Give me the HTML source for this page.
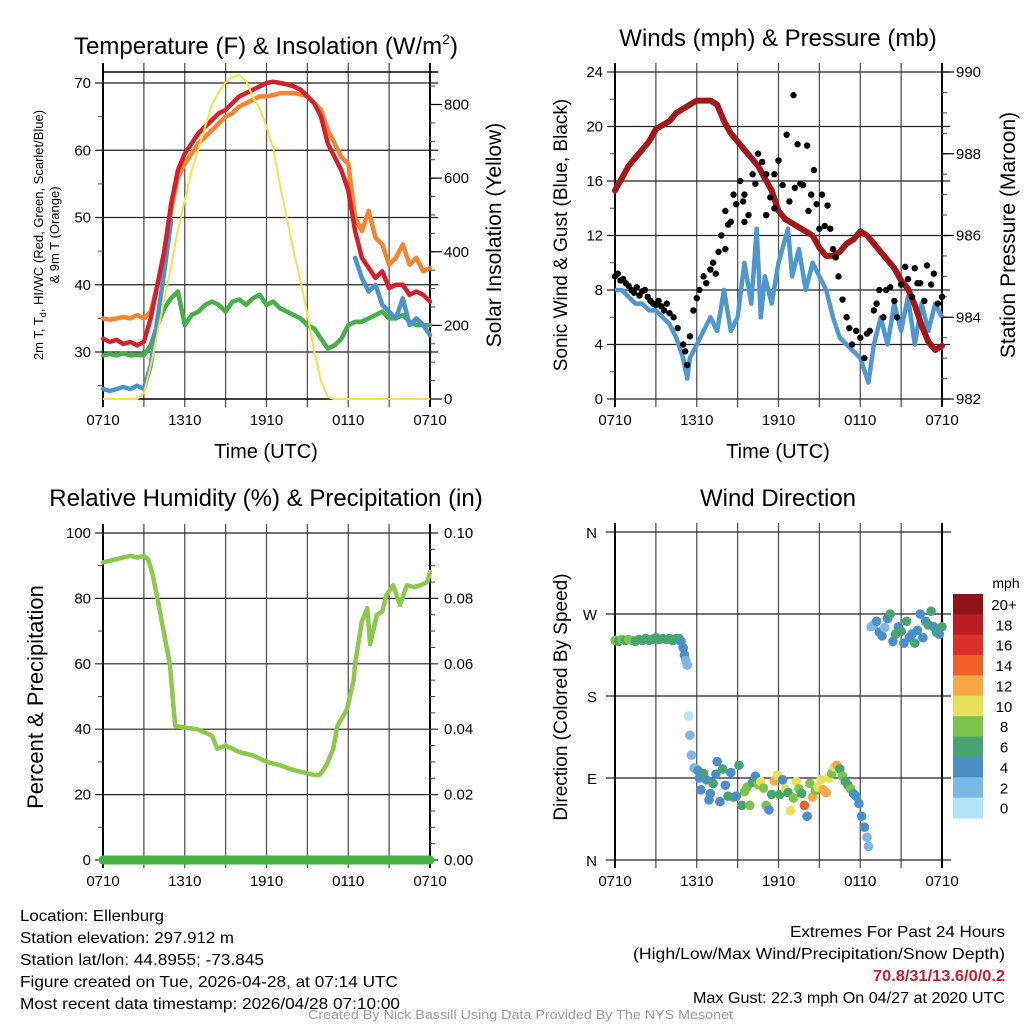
<!DOCTYPE html>
<html><head><meta charset="utf-8"><style>
html,body{margin:0;padding:0;background:#fff;}
svg{display:block;font-family:"Liberation Sans",sans-serif;}
</style></head><body>
<svg id="fig" width="1024" height="1024" viewBox="0 0 1024 1024" xmlns="http://www.w3.org/2000/svg">
<rect width="1024" height="1024" fill="#fff"/>
<g id="tl"></g>
<g id="tr"></g>
<g id="bl"></g>
<g id="br"></g>

<text x="266" y="54" font-size="24" text-anchor="middle">Temperature (F) &amp; Insolation (W/m<tspan font-size="14" dy="-10">2</tspan><tspan dy="10">)</tspan></text>
<text x="778" y="46" font-size="24" text-anchor="middle">Winds (mph) &amp; Pressure (mb)</text>
<text x="266" y="506" font-size="24" text-anchor="middle">Relative Humidity (%) &amp; Precipitation (in)</text>
<text x="778" y="506" font-size="24" text-anchor="middle">Wind Direction</text>

<text x="266" y="458" font-size="20" text-anchor="middle">Time (UTC)</text>
<text x="778" y="458" font-size="20" text-anchor="middle">Time (UTC)</text>

<text transform="translate(43,235) rotate(-90)" font-size="13" text-anchor="middle">2m T, T<tspan font-size="9" dy="3">d</tspan><tspan dy="-3">, HI/WC (Red, Green, Scarlet/Blue)</tspan></text>
<text transform="translate(59,235) rotate(-90)" font-size="13" text-anchor="middle">&amp; 9m T (Orange)</text>
<text transform="translate(501,235) rotate(-90)" font-size="21" text-anchor="middle">Solar Insolation (Yellow)</text>
<text transform="translate(567,235) rotate(-90)" font-size="19" text-anchor="middle">Sonic Wind &amp; Gust (Blue, Black)</text>
<text transform="translate(1015,235) rotate(-90)" font-size="21" text-anchor="middle">Station Pressure (Maroon)</text>
<text transform="translate(43,697) rotate(-90)" font-size="22" text-anchor="middle">Percent &amp; Precipitation</text>
<text transform="translate(567,697) rotate(-90)" font-size="19" text-anchor="middle">Direction (Colored By Speed)</text>

<g font-size="16">
<text x="20" y="921" textLength="144" lengthAdjust="spacingAndGlyphs">Location: Ellenburg</text>
<text x="20" y="943" textLength="214" lengthAdjust="spacingAndGlyphs">Station elevation: 297.912 m</text>
<text x="20" y="965" textLength="244" lengthAdjust="spacingAndGlyphs">Station lat/lon: 44.8955; -73.845</text>
<text x="20" y="987" textLength="378" lengthAdjust="spacingAndGlyphs">Figure created on Tue, 2026-04-28, at 07:14 UTC</text>
<text x="20" y="1009" textLength="380" lengthAdjust="spacingAndGlyphs">Most recent data timestamp: 2026/04/28 07:10:00</text>
</g>
<g font-size="16">
<text x="790" y="937" textLength="215" lengthAdjust="spacingAndGlyphs">Extremes For Past 24 Hours</text>
<text x="633" y="959" textLength="372" lengthAdjust="spacingAndGlyphs">(High/Low/Max Wind/Precipitation/Snow Depth)</text>
<text x="873" y="981" textLength="132" lengthAdjust="spacingAndGlyphs" fill="#c8202a" font-weight="bold">70.8/31/13.6/0/0.2</text>
<text x="693" y="1003" textLength="312" lengthAdjust="spacingAndGlyphs">Max Gust: 22.3 mph On 04/27 at 2020 UTC</text>
</g>
<text x="308" y="1019" font-size="13" fill="#999" textLength="425" lengthAdjust="spacingAndGlyphs">Created By Nick Bassill Using Data Provided By The NYS Mesonet</text>
</svg>
<script>
// ---- shared time categories ----
const xTickLabels = ["0710","1310","1910","0110","0710"];
const halfHours = [0,0.5,1,1.5,2,2.5,3,3.5,4,4.5,5,5.5,6,6.5,7,7.5,8,8.5,9,9.5,10,10.5,11,11.5,12,12.5,13,13.5,14,14.5,15,15.5,16,16.5,17,17.5,18,18.5,19,19.5,20,20.5,21,21.5,22,22.5,23,23.5,24];
// ---- temperature panel ----
const tempTicks = [30,40,50,60,70];
const insolTicks = [0,200,400,600,800];
const temp2m = [32,31.5,31.8,31.2,31.5,31,31.5,35,40,45,52,57,59.5,61,62.5,63.5,64.5,65.5,66,67,68,68.5,69,69.5,70,70.2,70,69.8,69.5,69,68,67,65,61,59,57,54,48,44,42.5,41,42,39.5,40,40,38.5,39,38.5,37.5];
const temp9m = [35,34.8,35,35.2,35,35.5,35,36,40,45,51,56,58,59.5,61,62,63,64,65,65.5,66.5,67,67.5,68,68,68.2,68.5,68.5,68.5,68.3,68,67,66,63,61,59,58,50,48,51,47,46,43,44,46,43,44,42,42.5];
const dewpoint = [29.5,29.7,29.5,29.8,29.5,29.6,29.5,31,34,36.5,38,39,34,35.5,36,37,37.5,37,36,37.5,37.8,37,38,38.5,37,37.5,36.5,36,35.5,35,34,33.5,32,30.5,31,32,34,34.5,34.5,35,35.5,36,35,35,35.5,34.5,34,34,34];
const heatWindChill = [24.5,24.2,24.5,24.8,24.5,25,24.5,28,35,42,49.5,null,null,null,null,null,null,null,null,null,null,null,null,null,null,null,null,null,null,null,null,null,null,null,null,null,null,44,41,39,40,37,36,35,38,34,35,34,32.5];
const insolation = [0,0,0,0,0,0,16,90,180,270,360,460,540,620,680,740,800,835,860,875,880,865,820,790,740,680,580,490,400,320,230,130,50,5,0,0,0,0,0,0,0,0,0,0,0,0,0,0,0];
// ---- wind panel ----
const windTicks = [0,4,8,12,16,20,24];
const pressTicks = [982,984,986,988,990];
const windTimes = [0,0.5,1,1.5,2,2.5,3,3.5,4,4.5,5,5.3,5.5,6,6.5,7,7.5,8,8.5,9,9.5,10,10.4,10.7,11,11.5,12,12.7,13,13.5,14,14.5,15,15.5,16,16.5,17,17.5,18,18.6,19,19.5,20,20.5,21,21.5,22,22.5,23,23.5,24];
const windSpeed = [8,8,7.5,7,7,6.5,6.5,6,5.5,4.5,3,1.5,3,4,5,6,5,8,5,6,10,7,12.5,6,9,7,10,12.5,9,11,8,10,9,8,6,4.5,4,3.5,3,1.2,4,6,4,7,5,7.5,4,7,5,7,6];
const gustTimes = [0,0.2,0.4,0.6,0.8,1,1.2,1.4,1.6,1.8,2,2.2,2.4,2.6,2.8,3,3.2,3.4,3.6,3.8,4,4.3,4.6,5,5.15,5.3,5.5,5.75,6,6.2,6.5,6.7,7,7.2,7.4,7.6,7.8,8.1,8.1,8.3,8.5,8.7,8.9,9.2,9.4,9.5,9.5,9.8,10.1,10.3,10.5,10.8,11.1,11.1,11.4,11.7,11.7,12,12.3,12.6,12.8,13.1,13.2,13.4,13.6,13.8,14.1,14.2,14.4,14.6,14.8,15.0,15.2,15.4,15.6,15.8,16,16.2,16.4,16.7,17,17.2,17.4,17.7,18,18.3,18.5,18.7,19,19.2,19.4,19.7,19.9,20.2,20.5,20.7,21,21.3,21.5,21.8,22,22.2,22.4,22.7,22.9,23.2,23.4,23.7,24];
const gustSpeed = [9,9.2,8.7,8.8,8.5,8.3,8,7.8,8.2,7.6,7.9,8,7.5,7.2,7,6.9,7.2,6.8,6.5,7,6.3,6,5.2,4,3.5,2.5,4.6,6.5,7.4,8,9,8.5,9.5,10,9.2,10.8,12,13.8,11,12.8,13,15,14.3,16,14.5,15,13,13.5,16.5,15.8,18,17.4,16.5,13.5,14.8,16.5,14,17.5,15.7,19.4,14.5,22.3,15.5,18.7,15.8,15.7,18.6,13.8,15,16.8,14.3,12.5,15,12.7,14.2,12.5,11,10.4,9,7.3,6,5.2,4,5,4.5,3,4.8,5,6.5,7,8,6,8,8.2,7.2,6,8.4,9.7,8.8,7.5,9.6,8.5,8.5,7.2,9.8,8.4,9.2,7,7.5];
const pressure = [987.1,987.4,987.7,987.9,988.1,988.3,988.6,988.7,988.8,989.0,989.1,989.2,989.3,989.3,989.3,989.2,988.8,988.5,988.3,988.1,987.9,987.7,987.4,987.1,986.6,986.4,986.3,986.2,986.1,986.0,985.7,985.5,985.5,985.6,985.8,985.9,986.1,986.0,985.8,985.6,985.4,985.2,984.9,984.7,984.3,983.8,983.4,983.2,983.3];
// ---- humidity panel ----
const rhTicks = [0,20,40,60,80,100];
const precipTicks = ["0.00","0.02","0.04","0.06","0.08","0.10"];
const rhTimes = [0,0.5,1,1.5,2,2.5,3,3.3,3.6,4,4.45,4.9,5.3,6,6.9,7.5,8,8.4,9,10,11,12,13,14,14.5,15,15.5,15.9,16.4,16.9,17.2,17.9,18.4,18.5,19,19.4,19.6,20.1,20.5,20.8,21.3,21.8,22.3,22.8,23.3,23.8,24];
const rhValues = [91,91.5,92,92.5,93,92.5,93,92,88,80,70,60,41,40.5,40,39,38,34,35,33,32,30,29,27.5,27,26.5,26,26,29,34,41,46,55,60,73,77,66,75,76,81,84,78,84,83.5,84,85,88];
const precipTimes = [0,24];
const precipValues = [0,0];
// ---- direction panel ----
const dirTickLabels = ["N","E","S","W","N"];
const speedBinLabels = ["0","2","4","6","8","10","12","14","16","18","20+"];
const dirTimes = [0,0.25,0.5,0.75,1,1.25,1.5,1.75,2,2.25,2.5,2.75,3,3.25,3.5,3.75,4,4.25,4.5,4.7,4.85,5,5.1,5.2,5.3,5.4,5.5,5.6,5.8,6,6.1,6.2,6.3,6.5,6.7,6.9,7,7.2,7.4,7.5,7.7,7.9,8.1,8.3,8.5,8.7,8.9,9.1,9.3,9.5,9.7,9.9,10.1,10.3,10.5,10.7,10.9,11.1,11.3,11.5,11.7,11.9,12.1,12.3,12.5,12.7,12.9,13.1,13.3,13.5,13.7,13.9,14.1,14.3,14.5,14.7,14.9,15.1,15.3,15.5,15.7,15.9,16.1,16.3,16.5,16.7,16.9,17.1,17.3,17.5,17.7,17.9,18.1,18.3,18.5,18.6,18.8,19.0,19.2,19.4,19.6,19.8,20.0,20.2,20.4,20.6,20.8,21.0,21.2,21.4,21.6,21.8,22.0,22.2,22.4,22.6,22.8,23.0,23.2,23.4,23.6,23.8,24];
const dirDegrees = [241,240,242,241,242,241,240,242,241,243,241,242,244,242,243,242,243,241,243,243,240,233,225,219,214,158,137,115,101,100,98,90,77,95,88,66,73,84,94,108,64,100,82,70,96,69,70,104,60,75,80,60,85,92,83,86,79,60,55,72,87,93,72,88,78,74,54,68,86,78,73,60,48,84,69,76,80,88,77,74,90,95,102,104,100,92,86,82,78,73,70,62,48,36,25,15,256,258,262,250,246,255,265,270,240,248,256,251,238,262,244,248,238,252,270,244,262,258,273,256,250,248,256];
const dirSpeed = [8,7,8,7,8,8,7,7,7,6,7,6,6,7,6,7,6,7,6,6,5,4,4,3,3,1,2,2,2,3,4,4,5,7,4,4,5,6,5,5,4,7,5,6,4,7,4,7,7,8,9,8,7,5,8,10,8,9,5,7,12,10,6,5,11,7,10,8,11,8,6,15,4,8,12,9,11,10,12,13,10,9,11,12,7,9,6,7,8,4,5,5,4,4,3,2,2,3,4,4,5,3,4,6,5,7,5,6,4,7,4,5,6,4,5,4,5,7,6,5,6,5,6];

const binColors = ["#b4e2f8","#7bb9e4","#4a8fc7","#48a56f","#7bc34b","#e8e05a","#f6a845","#ef602b","#db3129","#bb1d24","#8f1419"];

const NS = "http://www.w3.org/2000/svg";
function mk(parent, tag, attrs) {
  const el = document.createElementNS(NS, tag);
  for (const k in attrs) el.setAttribute(k, attrs[k]);
  parent.appendChild(el);
  return el;
}
function scale(d0, d1, r0, r1) { return v => r0 + (v - d0) * (r1 - r0) / (d1 - d0); }
function pathFrom(ts, vs, xf, yf) {
  let d = "", pen = false;
  for (let i = 0; i < ts.length; i++) {
    if (vs[i] === null) { pen = false; continue; }
    d += (pen ? "L" : "M") + xf(ts[i]).toFixed(1) + "," + yf(vs[i]).toFixed(1);
    pen = true;
  }
  return d;
}
function timeAxis(g, x, y0, y1, ext) {
  for (let i = 0; i <= 8; i++) {
    const px = x(i * 3);
    const l = mk(g, "line", {x1: px, x2: px, y1: y0 - ext, y2: y1 + 8, stroke: (i === 0 || i === 8) ? "#000" : "#555", "stroke-width": (i === 0 || i === 8) ? 2 : 1.3});
    
    
  }
  for (let i = 0; i < xTickLabels.length; i++) {
    const t = mk(g, "text", {x: x(i * 6), y: y1 + 26, "font-size": 15, "text-anchor": "middle"});
    t.textContent = xTickLabels[i];
    
    
  }
}
function minorTicks(g, y, lo, hi, step, xpos, dir) {
  for (let v = lo; v <= hi + 1e-9; v += step) {
    const py = y(v);
    const l = mk(g, "line", {x1: xpos, x2: xpos + dir * 5, y1: py, y2: py, stroke: "#444", "stroke-width": 1});
    
    
  }
}
function hgrid(g, y, vals, x0, x1, labels, side, fmt) {
  vals.forEach((v, i) => {
    const py = y(v);
    const l = mk(g, "line", {x1: x0 - 8, x2: x1 + 8, y1: py, y2: py, stroke: "#222", "stroke-width": 1.2});
    
    
    if (labels) {
      const t = mk(g, "text", {x: side === "left" ? x0 - 12 : x1 + 14, y: py + 5, "font-size": 15, "text-anchor": side === "left" ? "end" : "start"});
      t.textContent = fmt ? fmt(labels[i]) : labels[i];
      
      
    }
  });
}
function rightTicks(g, y, vals, x1) {
  vals.forEach(v => {
    const py = y(v);
    const l = mk(g, "line", {x1: x1, x2: x1 + 12, y1: py, y2: py, stroke: "#000", "stroke-width": 1.2});
    
    
    const t = mk(g, "text", {x: x1 + 14, y: py + 5, "font-size": 15});
    t.textContent = v;
    
    
  });
}

// ===== Temperature panel =====
(function(){
  const g = document.getElementById("tl");
  const X0 = 103, X1 = 430, Y0 = 72, Y1 = 399;
  const x = scale(0, 24, X0, X1);
  const y = scale(30, 70, 352, 83);
  const yi = scale(0, 800, 399, 104.5);
  timeAxis(g, x, Y0, Y1, 9);
  hgrid(g, y, tempTicks, X0, X1, tempTicks, "left");
  minorTicks(g, y, 25, 65, 10, X0, -1);
  minorTicks(g, yi, 50, 850, 50, X1, 1);
  const top = mk(g, "line", {x1: X0, x2: X1 + 8, y1: Y0, y2: Y0, stroke: "#000", "stroke-width": 1.5});
   
  const bot = mk(g, "line", {x1: X0, x2: X1, y1: Y1, y2: Y1, stroke: "#000", "stroke-width": 1.5});
   
  rightTicks(g, yi, insolTicks, X1);
  const series = [[temp9m, "#f5842e", "temp-9m-line"], [dewpoint, "#44b047", "dewpoint-line"], [heatWindChill, "#4b93cc", "heat-index-windchill-line"], [temp2m, "#d4202a", "temp-2m-line"]];
  series.forEach(s => {
    const p = mk(g, "path", {d: pathFrom(halfHours, s[0], x, y), fill: "none", stroke: s[1], "stroke-width": 4.5, "stroke-linejoin": "round", "stroke-linecap": "round"});
    
    
  });
  const ins = mk(g, "path", {d: pathFrom(halfHours, insolation, x, yi), fill: "none", stroke: "#f7e04a", "stroke-width": 2, "stroke-linejoin": "round"});
  
  
})();

// ===== Wind panel =====
(function(){
  const g = document.getElementById("tr");
  const X0 = 615, X1 = 942, Y0 = 72, Y1 = 399;
  const x = scale(0, 24, X0, X1);
  const y = scale(0, 24, Y1, Y0);
  const yp = scale(982, 990, Y1, Y0);
  timeAxis(g, x, Y0, Y1, 9);
  hgrid(g, y, windTicks, X0, X1, windTicks, "left");
  minorTicks(g, y, 2, 22, 4, X0, -1);
  minorTicks(g, yp, 982.5, 989.5, 0.5, X1, 1);
  rightTicks(g, yp, pressTicks, X1);
  const w = mk(g, "path", {d: pathFrom(windTimes, windSpeed, x, y), fill: "none", stroke: "#4f97d1", "stroke-width": 4.5, "stroke-linejoin": "round"});
  
  
  const p = mk(g, "path", {d: pathFrom(halfHours, pressure, x, yp), fill: "none", stroke: "#a3171b", "stroke-width": 6, "stroke-linejoin": "round", "stroke-linecap": "round"});
  
  
  gustTimes.forEach((t, i) => {
    const c = mk(g, "circle", {cx: x(t), cy: y(gustSpeed[i]), r: 3.2, fill: "#000"});
    
    
  });
})();

// ===== Humidity panel =====
(function(){
  const g = document.getElementById("bl");
  const X0 = 103, X1 = 430, Y0 = 533, Y1 = 860;
  const x = scale(0, 24, X0, X1);
  const y = scale(0, 100, Y1, Y0);
  const ypr = scale(0, 0.1, Y1, Y0);
  timeAxis(g, x, Y0, Y1, 9);
  hgrid(g, y, rhTicks, X0, X1, rhTicks, "left");
  minorTicks(g, y, 10, 90, 20, X0, -1);
  minorTicks(g, y, 5, 95, 5, X1, 1);
  precipTicks.forEach(v => {
    const t = mk(g, "text", {x: X1 + 14, y: ypr(+v) + 5, "font-size": 15});
    t.textContent = v;
    
    
  });
  const rh = mk(g, "path", {d: pathFrom(rhTimes, rhValues, x, y), fill: "none", stroke: "#8cc84b", "stroke-width": 4.5, "stroke-linejoin": "round", "stroke-linecap": "round"});
  
  
  const pr = mk(g, "path", {d: pathFrom(precipTimes, precipValues, x, ypr), fill: "none", stroke: "#45b245", "stroke-width": 9, "stroke-linecap": "round"});
  
  
})();

// ===== Direction panel =====
(function(){
  const g = document.getElementById("br");
  const X0 = 615, X1 = 942, Y0 = 532, Y1 = 860;
  const x = scale(0, 24, X0, X1);
  const y = scale(0, 360, Y1, Y0);
  timeAxis(g, x, Y0, Y1, 9);
  dirTickLabels.forEach((lab, i) => {
    const py = y(i * 90);
    const l = mk(g, "line", {x1: X0 - 9, x2: X1 + 9, y1: py, y2: py, stroke: "#222", "stroke-width": 1.2});
    
    
    const t = mk(g, "text", {x: 597, y: py + 6, "font-size": 15, "text-anchor": "end"});
    t.textContent = lab;
    
    
  });
  dirTimes.forEach((t, i) => {
    const bin = Math.min(10, Math.floor(dirSpeed[i] / 2));
    const c = mk(g, "circle", {cx: x(t), cy: y(dirDegrees[i]), r: 4.8, fill: binColors[bin]});
    
    
  });
  // colorbar
  const cbTop = 594, cbH = 224 / speedBinLabels.length;
  const u = mk(g, "text", {x: 1006, y: 588, "font-size": 14, "text-anchor": "middle"});
  u.textContent = "mph";
  
  
  speedBinLabels.forEach((lab, i) => {
    const k = speedBinLabels.length - 1 - i;
    const r = mk(g, "rect", {x: 953, y: cbTop + i * cbH, width: 30, height: cbH + 0.5, fill: binColors[k]});
    
    
    const t = mk(g, "text", {x: 1004, y: cbTop + i * cbH + 16, "font-size": 15, "text-anchor": "middle"});
    t.textContent = speedBinLabels[k];
    
    
  });
})();
</script>
</body></html>
